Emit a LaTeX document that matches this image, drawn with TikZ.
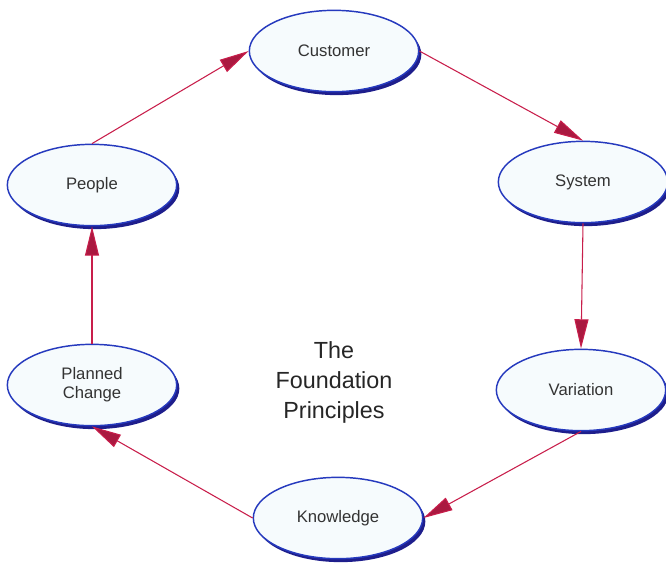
\documentclass[tikz,border=0pt]{standalone}
\usepackage{fontspec}
\setmainfont{Liberation Sans}
\usetikzlibrary{shapes.geometric, arrows.meta, shadows}

\definecolor{ringblue}{RGB}{38,58,190}
\definecolor{ringdark}{RGB}{30,30,140}
\definecolor{linkred}{RGB}{200,30,75}
\definecolor{ringfill}{RGB}{246,251,253}

\begin{document}
\begin{tikzpicture}[
        x=0.75pt, y=-0.75pt,
        font=\fontsize{12.5}{14.5}\selectfont,
        topic/.style={
            ellipse,
            draw=ringblue,
            line width=1.1pt,
            fill=ringfill,
            align=center,
            text=black!80,
            minimum width=127pt,
            minimum height=61pt,
            general shadow={shadow xshift=2pt, shadow yshift=-2.6pt, fill=ringdark}
        },
        link/.style={
            draw=linkred,
            line width=0.8pt,
            -{Triangle[length=22pt, width=10.5pt, fill=linkred!85!black]}
        }
    ]
    \useasboundingbox (0,0) rectangle (666,565);

    \node[topic] (C) at (334,51) {Customer};
    \node[topic] (S) at (583,182) {System};
    \node[topic] (V) at (581,390) {Variation};
    \node[topic] (K) at (338,518) {Knowledge};
    \node[topic] (PC) at (92,385) {Planned\\Change};
    \node[topic] (P) at (92,185) {People};

    \node[align=center, font=\fontsize{17.5}{22.5}\selectfont, text=black!85] (F) at (334,382)
        {The\\Foundation\\Principles};

    % the cycle, clockwise from the top
    \draw[link] (P.north) -- (C.west);
    \draw[link] (C.east) -- (S.north);
    \draw[link] (S.south) -- (V.north);
    \draw[link] (V.south) -- (K.east);
    \draw[link] (K.west) -- (PC.south);
    \draw[link] (PC.north) -- (P.south);
\end{tikzpicture}
\end{document}
